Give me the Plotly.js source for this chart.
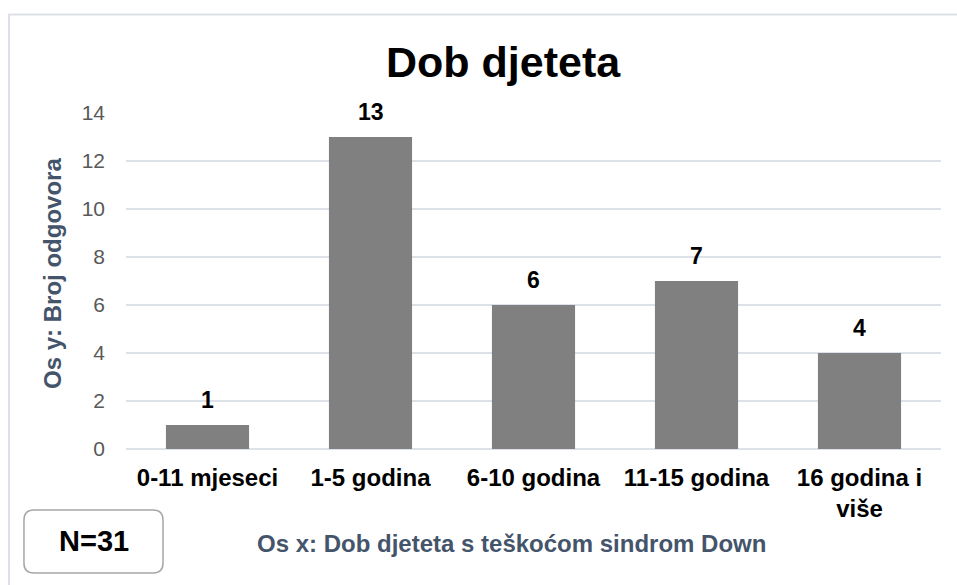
<!DOCTYPE html>
<html>
<head>
<meta charset="utf-8">
<script src="https://cdn.plot.ly/plotly-3.0.1.min.js"></script>
<style>html,body{margin:0;padding:0;background:#fff;}#chart{width:957px;height:585px;}</style>
</head>
<body>
<div id="chart"></div>
<script>
const categories = ["0-11 mjeseci", "1-5 godina", "6-10 godina", "11-15 godina", "16 godina i više"];
const tickLabels = ["0-11 mjeseci", "1-5 godina", "6-10 godina", "11-15 godina", "16 godina i<br>više"];
const values = [1, 13, 6, 7, 4];
const yTicks = [0, 2, 4, 6, 8, 10, 12, 14];
const chartTitle = "Dob djeteta";
const yTitle = "Os y: Broj odgovora";
const xTitle = "Os x: Dob djeteta s teškoćom sindrom Down";
const noteText = "N=31";

const FONT = "Liberation Sans, Arial, sans-serif";
const AXIS_TITLE_COLOR = "#44546a";

const trace = {
  type: "bar",
  x: categories,
  y: values,
  marker: {color: "#808080"},
  hoverinfo: "skip"
};

const labelAnnotations = categories.map((c, i) => ({
  x: c, y: values[i], xref: "x", yref: "y",
  text: "<b>" + values[i] + "</b>",
  showarrow: false, yanchor: "bottom", yshift: 10,
  font: {family: FONT, size: 23, color: "#000000"}
}));

// rounded box for N note (paper coords)
const bx0 = -0.1252, bx1 = 0.0454, byT = -0.1815, byB = -0.369, rx = 0.01227, ry = 0.02976;
const boxPath = `M ${bx0+rx},${byT} L ${bx1-rx},${byT} Q ${bx1},${byT} ${bx1},${byT-ry} L ${bx1},${byB+ry} Q ${bx1},${byB} ${bx1-rx},${byB} L ${bx0+rx},${byB} Q ${bx0},${byB} ${bx0},${byB+ry} L ${bx0},${byT-ry} Q ${bx0},${byT} ${bx0+rx},${byT} Z`;

const layout = {
  width: 957, height: 585,
  margin: {l: 126, r: 16, t: 113, b: 136},
  paper_bgcolor: "#ffffff", plot_bgcolor: "#ffffff",
  showlegend: false,
  bargap: 0.49,
  font: {family: FONT},
  xaxis: {
    tickvals: categories, ticktext: tickLabels,
    tickfont: {family: FONT, size: 24, color: "#000000", weight: "bold"},
    showgrid: false, zeroline: false, showline: false, ticks: "",
    ticklabelstandoff: 12
  },
  yaxis: {
    range: [0, 14], tickvals: yTicks,
    tickfont: {family: FONT, size: 21, color: "#595959"},
    showgrid: true, gridcolor: "#dde2e8", gridwidth: 2,
    zeroline: true, zerolinecolor: "#dde2e8", zerolinewidth: 2,
    showline: false, ticks: "", ticklabelstandoff: 20
  },
  shapes: [
    {type: "path", xref: "paper", yref: "paper",
     path: "M -0.1436,-0.45 L -0.1436,1.2932 L 1.05,1.2932",
     line: {color: "#dde1e7", width: 2}},
    {type: "path", xref: "paper", yref: "paper", path: boxPath,
     line: {color: "#a6a6a6", width: 1.5}, fillcolor: "rgba(0,0,0,0)"}
  ],
  annotations: [
    {xref: "paper", yref: "paper", x: 0.4638, y: 1.152, text: "<b>" + chartTitle + "</b>",
     showarrow: false, xanchor: "center", yanchor: "middle",
     font: {family: FONT, size: 43, color: "#000000"}},
    {xref: "paper", yref: "paper", x: -0.0896, y: 0.524, text: "<b>" + yTitle + "</b>",
     textangle: -90, showarrow: false, xanchor: "center", yanchor: "middle",
     font: {family: FONT, size: 24, color: AXIS_TITLE_COLOR}},
    {xref: "paper", yref: "paper", x: 0.4724, y: -0.2798, text: "<b>" + xTitle + "</b>",
     showarrow: false, xanchor: "center", yanchor: "middle",
     font: {family: FONT, size: 24, color: AXIS_TITLE_COLOR}},
    {xref: "paper", yref: "paper", x: -0.0393, y: -0.2738, text: "<b>" + noteText + "</b>",
     showarrow: false, xanchor: "center", yanchor: "middle",
     font: {family: FONT, size: 29, color: "#000000"}}
  ].concat(labelAnnotations)
};

Plotly.newPlot("chart", [trace], layout, {displayModeBar: false, staticPlot: true});
</script>
</body>
</html>
